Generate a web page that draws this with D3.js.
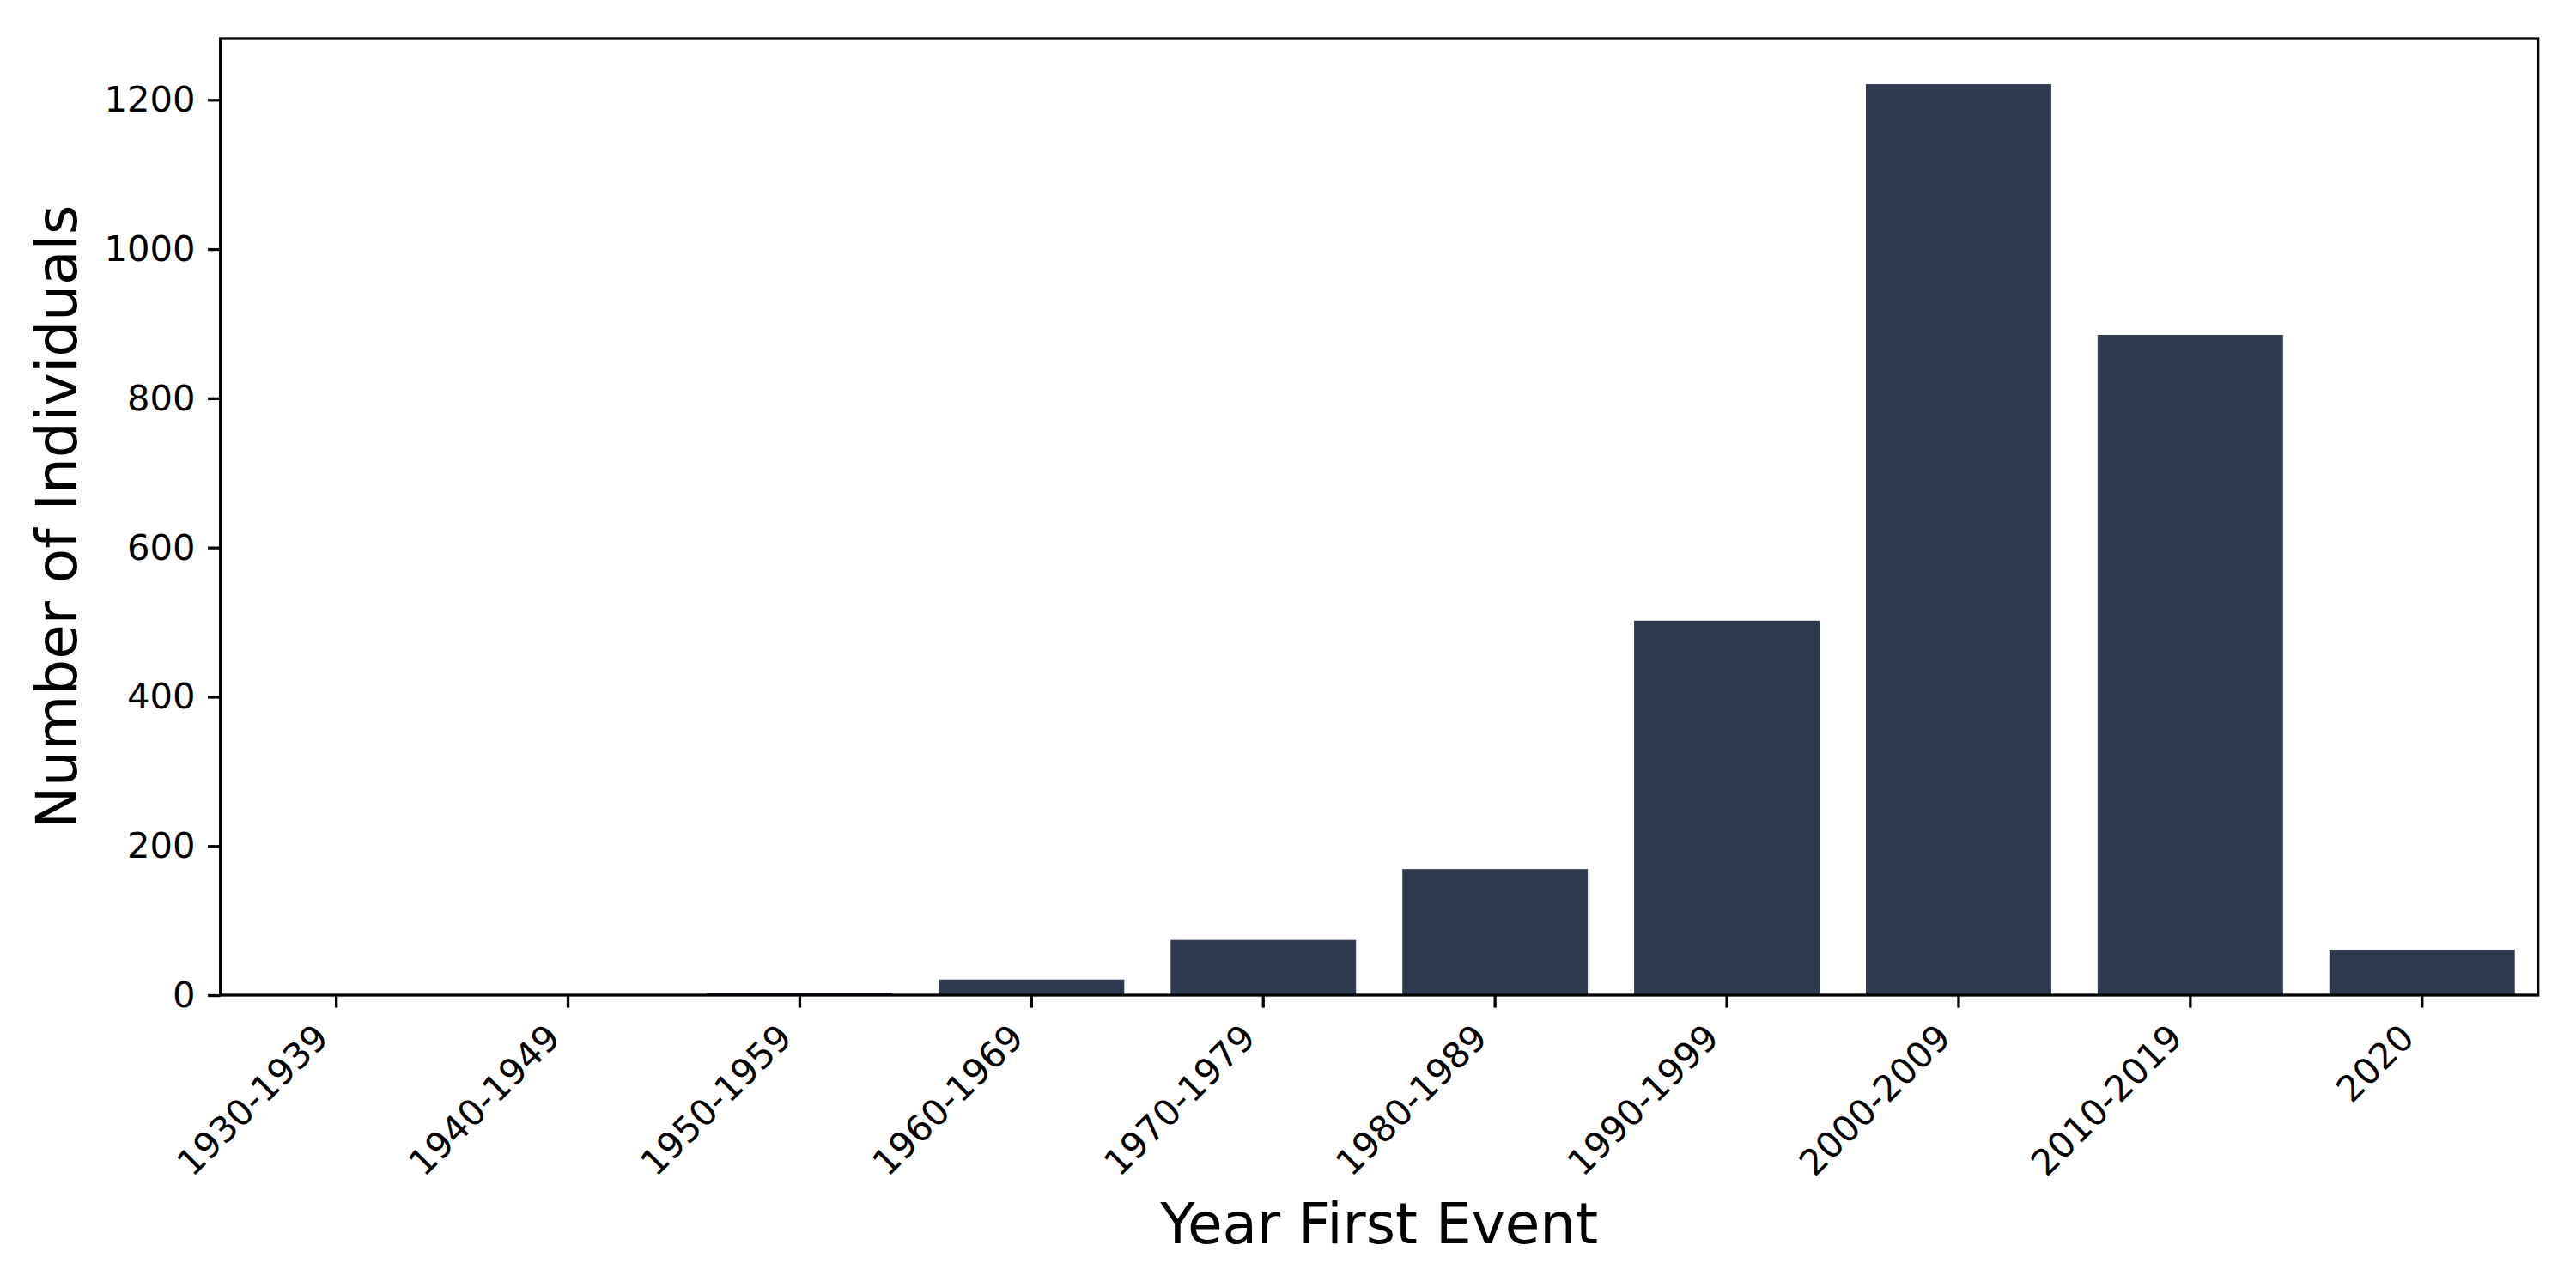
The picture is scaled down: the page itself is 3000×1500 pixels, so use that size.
<!DOCTYPE html>
<html>
<head>
<meta charset="utf-8">
<script src="https://cdn.jsdelivr.net/npm/d3@7"></script>
<style>
  body { margin: 0; background: #fff; }
  text { font-family: "DejaVu Sans", sans-serif; }
</style>
</head>
<body>
<div id="chart"></div>
<script>
// decades of first event and how many individuals
const decades = ['1930-1939', '1940-1949', '1950-1959', '1960-1969', '1970-1979',
  '1980-1989', '1990-1999', '2000-2009', '2010-2019', '2020'];
const counts = [0, 0, 3, 21, 74, 169, 502, 1221, 885, 61];
const yTicks = [0, 200, 400, 600, 800, 1000, 1200];

const width = 3000,
  height = 1500;
const margin = { top: 45, right: 44.3, bottom: 341, left: 256.7 };

const svg = d3.select('#chart')
  .append('svg')
  .attr('width', width)
  .attr('height', height);

const x = d3.scaleBand()
  .domain(decades)
  .range([margin.left, width - margin.right])
  .paddingInner(0.2)
  .paddingOuter(0.1);

// matplotlib style 5% headroom
const y = d3.scaleLinear()
  .domain([0, d3.max(counts) * 1.05])
  .range([height - margin.bottom, margin.top]);

const data = decades.map((d, i) => ({ decade: d, n: counts[i] }));

svg.selectAll('rect.bar')
  .data(data)
  .enter()
  .append('rect')
  .attr('class', 'bar')
  .attr('x', d => x(d.decade))
  .attr('y', d => y(d.n))
  .attr('width', x.bandwidth())
  .attr('height', d => y(0) - y(d.n))
  .attr('fill', '#2e3a50');

// y axis
const yAxis = svg.append('g')
  .attr('transform', `translate(${margin.left},0)`)
  .call(d3.axisLeft(y).tickValues(yTicks).tickFormat(d3.format('d'))
    .tickSize(14.6).tickPadding(14.6));
yAxis.select('.domain').remove();
yAxis.selectAll('line').attr('stroke', '#000').attr('stroke-width', 3.3);
yAxis.selectAll('text')
  .attr('font-size', 41.7)
  .attr('fill', '#000')
  .attr('font-family', 'DejaVu Sans');

// x axis
const xAxis = svg.append('g')
  .attr('transform', `translate(0,${height - margin.bottom})`)
  .call(d3.axisBottom(x).tickSize(14.6).tickPadding(0));
xAxis.select('.domain').remove();
xAxis.selectAll('line').attr('stroke', '#000').attr('stroke-width', 3.3);
xAxis.selectAll('text')
  .attr('font-size', 41.7)
  .attr('fill', '#000')
  .attr('font-family', 'DejaVu Sans')
  .attr('text-anchor', 'end')
  .attr('dy', null)
  .attr('y', 0)
  .attr('transform', 'translate(-7,52) rotate(-45)');

// frame
svg.append('rect')
  .attr('x', margin.left)
  .attr('y', margin.top)
  .attr('width', width - margin.left - margin.right)
  .attr('height', height - margin.top - margin.bottom)
  .attr('fill', 'none')
  .attr('stroke', '#000')
  .attr('stroke-width', 3.3);

// axis titles
svg.append('text')
  .attr('x', (margin.left + width - margin.right) / 2)
  .attr('y', 1448)
  .attr('text-anchor', 'middle')
  .attr('font-size', 66)
  .text('Year First Event');

svg.append('text')
  .attr('transform', `translate(89,${(margin.top + height - margin.bottom) / 2}) rotate(-90)`)
  .attr('text-anchor', 'middle')
  .attr('font-size', 66)
  .text('Number of Individuals');
</script>
</body>
</html>
